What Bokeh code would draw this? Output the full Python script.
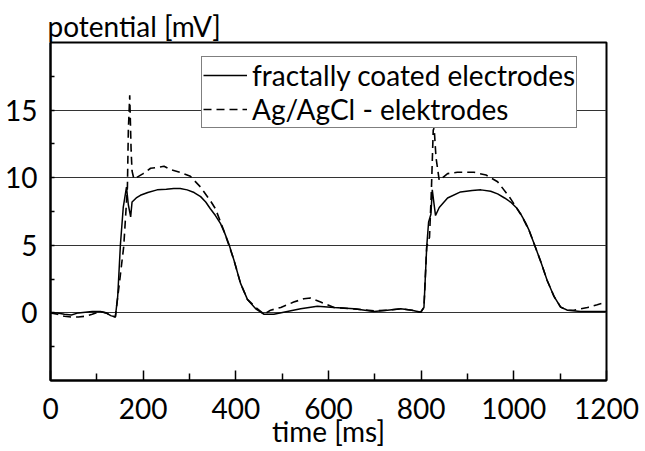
from bokeh.plotting import figure
from bokeh.models import Range1d, FixedTicker, Legend, LegendItem
from bokeh.embed import file_html
from bokeh.resources import INLINE

# time [ms] and potential [mV], fractally coated electrodes (solid)
t_fractal = [0, 15, 30, 45, 60, 75, 90, 108, 120, 130, 140, 145, 151, 157, 164, 168, 173, 176, 185, 194,
             210, 230, 250, 266, 280, 295, 310, 324, 335, 345, 356, 367, 376, 385, 396, 410, 425, 443, 461, 482,
             511, 540, 576, 612, 655, 698, 727, 756, 780, 799, 806, 812, 816, 821, 824, 828, 831, 839, 857, 885,
             910, 929, 950, 965, 980, 993, 1005, 1015, 1025, 1033, 1044, 1058, 1072, 1087, 1101, 1116, 1144, 1170, 1200]
v_fractal = [0.0, 0.0, -0.1, -0.15, 0.0, 0.05, 0.1, 0.1, 0.0, -0.2, -0.3, 1.2, 5.1, 7.8, 9.3, 8.0, 7.1, 8.2, 8.5, 8.7,
             8.9, 9.1, 9.15, 9.2, 9.2, 9.1, 8.9, 8.6, 8.2, 7.7, 7.2, 6.6, 5.9, 5.1, 3.9, 2.2, 1.0, 0.3, -0.1, -0.1,
             0.1, 0.3, 0.5, 0.4, 0.3, 0.1, 0.2, 0.3, 0.2, 0.05, 0.4, 4.9, 6.7, 7.3, 9.1, 8.0, 7.2, 7.8, 8.5, 8.95,
             9.05, 9.1, 9.0, 8.8, 8.5, 8.2, 7.8, 7.3, 6.7, 6.1, 5.1, 3.8, 2.4, 1.2, 0.43, 0.2, 0.1, 0.1, 0.1]

# Ag/AgCl electrodes (dashed)
t_agcl = [0, 15, 30, 45, 60, 75, 90, 108, 120, 130, 140, 148, 158, 166, 168, 171, 174, 176, 180, 190,
          200, 216, 230, 245, 259, 280, 302, 324, 345, 356, 374, 396, 410, 425, 443, 461, 475, 497, 525, 547,
          561, 583, 612, 655, 698, 727, 756, 780, 799, 806, 812, 818, 822, 826, 828, 832, 839, 857, 878, 914,
          940, 965, 990, 1015, 1033, 1044, 1058, 1072, 1087, 1101, 1116, 1130, 1159, 1180, 1200]
v_agcl = [0.0, -0.1, -0.25, -0.3, -0.3, -0.25, -0.1, 0.1, 0.0, -0.2, -0.3, 2.0, 4.9, 9.3, 13.5, 16.1, 12.0, 10.5, 9.9, 10.1,
          10.3, 10.7, 10.75, 10.85, 10.6, 10.4, 10.1, 9.3, 8.3, 7.7, 6.1, 3.9, 2.2, 1.0, 0.4, -0.1, 0.2, 0.4, 0.8, 1.05,
          1.1, 0.8, 0.4, 0.3, 0.15, 0.2, 0.3, 0.2, 0.05, 0.4, 4.9, 5.6, 9.0, 13.5, 13.7, 11.5, 9.8, 10.3, 10.4, 10.4,
          10.2, 9.7, 8.6, 7.3, 6.1, 5.1, 3.8, 2.4, 1.2, 0.43, 0.2, 0.2, 0.4, 0.6, 0.8]

x_ticks = [0, 200, 400, 600, 800, 1000, 1200]
x_minor = [100, 300, 500, 700, 900, 1100]
y_ticks = [0, 5, 10, 15]
y_minor = [-2.5, 2.5, 7.5, 12.5, 17.5]

label_series = ["fractally coated electrodes", "Ag/AgCl - elektrodes"]
x_title = "time [ms]"
y_title = "potential [mV]"

FONT = "Lato"
FS = "28px"

p = figure(width=645, height=451, output_backend="svg", toolbar_location=None,
           x_range=Range1d(0, 1200), y_range=Range1d(-5, 20),
           min_border_left=50, min_border_right=39, min_border_top=42, min_border_bottom=71)
p.background_fill_color = "white"
p.border_fill_color = "white"
p.outline_line_color = "black"
p.outline_line_width = 2

p.title.text = y_title
p.title.align = "left"
p.title.offset = -3
p.title.standoff = 0
p.title.text_font = FONT
p.title.text_font_size = FS
p.title.text_font_style = "normal"
p.title.text_color = "black"

r1 = p.line(t_fractal, v_fractal, line_color="black", line_width=1.5)
r2 = p.line(t_agcl, v_agcl, line_color="black", line_width=1.6, line_dash="8 5")

p.xgrid.grid_line_color = None
p.ygrid.grid_line_color = "#333333"
p.ygrid.grid_line_width = 1
p.ygrid.ticker = FixedTicker(ticks=y_ticks)

for ax in (p.xaxis[0], p.yaxis[0]):
    ax.axis_line_width = 2
    ax.axis_line_color = "black"
    ax.major_tick_out = 0
    ax.minor_tick_out = 0
    ax.major_tick_line_color = "black"
    ax.minor_tick_line_color = "black"
    ax.major_tick_line_width = 1.5
    ax.minor_tick_line_width = 1.5
    ax.major_label_text_font = FONT
    ax.major_label_text_font_size = FS
    ax.major_label_text_color = "black"

p.xaxis.ticker = FixedTicker(ticks=x_ticks, minor_ticks=x_minor)
p.xaxis.major_tick_in = 10
p.xaxis.minor_tick_in = 7
p.xaxis.major_label_standoff = 17
p.xaxis.axis_label = x_title
p.xaxis.axis_label_text_font = FONT
p.xaxis.axis_label_text_font_size = FS
p.xaxis.axis_label_text_font_style = "normal"
p.xaxis.axis_label_text_color = "black"
p.xaxis.axis_label_standoff = -8

p.yaxis.ticker = FixedTicker(ticks=y_ticks, minor_ticks=y_minor)
p.yaxis.major_tick_in = 4
p.yaxis.minor_tick_in = 4
p.yaxis.major_label_standoff = 13

legend = Legend(items=[LegendItem(label=label_series[0], renderers=[r1]),
                       LegendItem(label=label_series[1], renderers=[r2])],
                location=(151, 252))
legend.label_text_font = FONT
legend.label_text_font_size = FS
legend.label_text_color = "black"
legend.label_text_line_height = 1.0
legend.glyph_width = 44
legend.glyph_height = 16
legend.label_height = 16
legend.label_standoff = 5
legend.padding = 1
legend.spacing = -8
legend.margin = 0
legend.border_line_color = "black"
legend.border_line_width = 1
legend.background_fill_color = "white"
legend.background_fill_alpha = 1
p.add_layout(legend)

open("out.html", "w").write(file_html(p, INLINE))
